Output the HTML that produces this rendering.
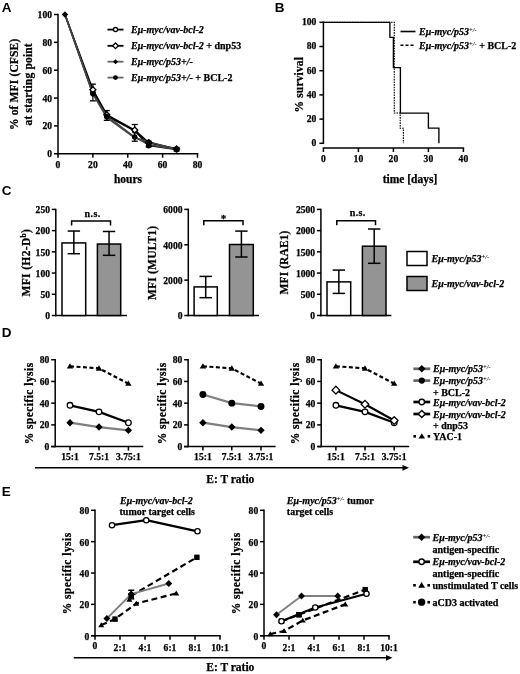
<!DOCTYPE html>
<html><head><meta charset="utf-8"><style>
html,body{margin:0;padding:0;background:#fff;}
body{width:520px;height:674px;overflow:hidden;}
svg{display:block;filter:blur(0.3px);}
.t{font-family:"Liberation Serif",serif;font-weight:bold;fill:#000;stroke:#000;stroke-width:0.25px;}
.bi{font-style:italic;}
.p{font-family:"Liberation Sans",sans-serif;font-weight:bold;fill:#000;}
</style></head><body>
<svg width="520" height="674" viewBox="0 0 520 674">
<rect width="520" height="674" fill="#fff"/>
<text x="1.8" y="12.3" font-size="13.5" text-anchor="start" class="p">A</text>
<text x="274.8" y="12.2" font-size="13.5" text-anchor="start" class="p">B</text>
<text x="1.8" y="194.5" font-size="13.5" text-anchor="start" class="p">C</text>
<text x="1.8" y="336.6" font-size="13.5" text-anchor="start" class="p">D</text>
<text x="1.8" y="495.6" font-size="13.5" text-anchor="start" class="p">E</text>
<line x1="58" y1="13.75" x2="58" y2="154.5" stroke="#000" stroke-width="1.5" stroke-linecap="butt"/>
<line x1="57.25" y1="153.75" x2="198.25" y2="153.75" stroke="#000" stroke-width="1.5" stroke-linecap="butt"/>
<line x1="54" y1="153.75" x2="58" y2="153.75" stroke="#000" stroke-width="1.5" stroke-linecap="butt"/>
<text x="52" y="157.25" font-size="9.6" text-anchor="end" class="t">0</text>
<line x1="54" y1="125.9" x2="58" y2="125.9" stroke="#000" stroke-width="1.5" stroke-linecap="butt"/>
<text x="52" y="129.4" font-size="9.6" text-anchor="end" class="t">20</text>
<line x1="54" y1="98.05" x2="58" y2="98.05" stroke="#000" stroke-width="1.5" stroke-linecap="butt"/>
<text x="52" y="101.55" font-size="9.6" text-anchor="end" class="t">40</text>
<line x1="54" y1="70.2" x2="58" y2="70.2" stroke="#000" stroke-width="1.5" stroke-linecap="butt"/>
<text x="52" y="73.7" font-size="9.6" text-anchor="end" class="t">60</text>
<line x1="54" y1="42.35" x2="58" y2="42.35" stroke="#000" stroke-width="1.5" stroke-linecap="butt"/>
<text x="52" y="45.85" font-size="9.6" text-anchor="end" class="t">80</text>
<line x1="54" y1="14.5" x2="58" y2="14.5" stroke="#000" stroke-width="1.5" stroke-linecap="butt"/>
<text x="52" y="18" font-size="9.6" text-anchor="end" class="t">100</text>
<line x1="58" y1="153.75" x2="58" y2="157.75" stroke="#000" stroke-width="1.5" stroke-linecap="butt"/>
<text x="58" y="167.5" font-size="9.6" text-anchor="middle" class="t">0</text>
<line x1="92.88" y1="153.75" x2="92.88" y2="157.75" stroke="#000" stroke-width="1.5" stroke-linecap="butt"/>
<text x="92.88" y="167.5" font-size="9.6" text-anchor="middle" class="t">20</text>
<line x1="127.75" y1="153.75" x2="127.75" y2="157.75" stroke="#000" stroke-width="1.5" stroke-linecap="butt"/>
<text x="127.75" y="167.5" font-size="9.6" text-anchor="middle" class="t">40</text>
<line x1="162.62" y1="153.75" x2="162.62" y2="157.75" stroke="#000" stroke-width="1.5" stroke-linecap="butt"/>
<text x="162.62" y="167.5" font-size="9.6" text-anchor="middle" class="t">60</text>
<line x1="197.5" y1="153.75" x2="197.5" y2="157.75" stroke="#000" stroke-width="1.5" stroke-linecap="butt"/>
<text x="197.5" y="167.5" font-size="9.6" text-anchor="middle" class="t">80</text>
<text x="128" y="183" font-size="11.5" text-anchor="middle" class="t">hours</text>
<text transform="translate(18.2,84.3) rotate(-90)" font-size="11.5" text-anchor="middle" class="t" letter-spacing="0.15">% of MFI (CFSE)</text>
<text transform="translate(32,84.3) rotate(-90)" font-size="11.5" text-anchor="middle" class="t" letter-spacing="0.18">at starting point</text>
<line x1="92.88" y1="84.12" x2="92.88" y2="100.83" stroke="#000" stroke-width="1.2" stroke-linecap="butt"/>
<line x1="89.88" y1="84.12" x2="95.88" y2="84.12" stroke="#000" stroke-width="1.3" stroke-linecap="butt"/>
<line x1="89.88" y1="100.83" x2="95.88" y2="100.83" stroke="#000" stroke-width="1.3" stroke-linecap="butt"/>
<line x1="106.82" y1="110.58" x2="106.82" y2="120.33" stroke="#000" stroke-width="1.2" stroke-linecap="butt"/>
<line x1="103.82" y1="110.58" x2="109.82" y2="110.58" stroke="#000" stroke-width="1.3" stroke-linecap="butt"/>
<line x1="103.82" y1="120.33" x2="109.82" y2="120.33" stroke="#000" stroke-width="1.3" stroke-linecap="butt"/>
<line x1="134.72" y1="124.51" x2="134.72" y2="141.22" stroke="#000" stroke-width="1.2" stroke-linecap="butt"/>
<line x1="131.72" y1="124.51" x2="137.72" y2="124.51" stroke="#000" stroke-width="1.3" stroke-linecap="butt"/>
<line x1="131.72" y1="141.22" x2="137.72" y2="141.22" stroke="#000" stroke-width="1.3" stroke-linecap="butt"/>
<line x1="148.68" y1="141.22" x2="148.68" y2="146.79" stroke="#000" stroke-width="1.2" stroke-linecap="butt"/>
<line x1="145.68" y1="141.22" x2="151.68" y2="141.22" stroke="#000" stroke-width="1.3" stroke-linecap="butt"/>
<line x1="145.68" y1="146.79" x2="151.68" y2="146.79" stroke="#000" stroke-width="1.3" stroke-linecap="butt"/>
<line x1="176.57" y1="147.48" x2="176.57" y2="150.97" stroke="#000" stroke-width="1.2" stroke-linecap="butt"/>
<line x1="173.57" y1="147.48" x2="179.57" y2="147.48" stroke="#000" stroke-width="1.3" stroke-linecap="butt"/>
<line x1="173.57" y1="150.97" x2="179.57" y2="150.97" stroke="#000" stroke-width="1.3" stroke-linecap="butt"/>
<polyline points="64.97,14.5 92.88,89.69 106.82,114.76 134.72,130.08 148.68,142.61 176.57,148.88" fill="none" stroke="#000" stroke-width="1.6" stroke-linejoin="round"/>
<polyline points="64.97,14.5 92.88,92.48 106.82,116.15 134.72,130.77 148.68,145.53 176.57,149.57" fill="none" stroke="#000" stroke-width="1.6" stroke-linejoin="round"/>
<polyline points="64.97,14.5 92.88,93.87 106.82,117.55 134.72,137.74 148.68,141.77 176.57,149.57" fill="none" stroke="#444" stroke-width="1.6" stroke-linejoin="round"/>
<polyline points="64.97,14.5 92.88,93.87 106.82,116.15 134.72,137.04 148.68,144.7 176.57,149.29" fill="none" stroke="#444" stroke-width="1.6" stroke-linejoin="round"/>
<circle cx="92.88" cy="92.48" r="2.2" fill="#fff" stroke="#000" stroke-width="1.3"/>
<circle cx="106.82" cy="116.15" r="2.2" fill="#fff" stroke="#000" stroke-width="1.3"/>
<circle cx="134.72" cy="130.77" r="2.2" fill="#fff" stroke="#000" stroke-width="1.3"/>
<circle cx="148.68" cy="145.53" r="2.2" fill="#fff" stroke="#000" stroke-width="1.3"/>
<circle cx="176.57" cy="149.57" r="2.2" fill="#fff" stroke="#000" stroke-width="1.3"/>
<path d="M92.88,86.69 L95.88,89.69 L92.88,92.69 L89.88,89.69 Z" fill="#fff" stroke="#000" stroke-width="1.3"/>
<path d="M106.82,111.76 L109.82,114.76 L106.82,117.76 L103.82,114.76 Z" fill="#fff" stroke="#000" stroke-width="1.3"/>
<path d="M134.72,127.08 L137.72,130.08 L134.72,133.08 L131.72,130.08 Z" fill="#fff" stroke="#000" stroke-width="1.3"/>
<path d="M148.68,139.61 L151.68,142.61 L148.68,145.61 L145.68,142.61 Z" fill="#fff" stroke="#000" stroke-width="1.3"/>
<path d="M176.57,145.88 L179.57,148.88 L176.57,151.88 L173.57,148.88 Z" fill="#fff" stroke="#000" stroke-width="1.3"/>
<path d="M92.88,91 L95.75,93.87 L92.88,96.75 L90,93.87 Z" fill="#000"/>
<path d="M106.82,114.67 L109.7,117.55 L106.82,120.42 L103.95,117.55 Z" fill="#000"/>
<path d="M134.72,134.86 L137.6,137.74 L134.72,140.61 L131.85,137.74 Z" fill="#000"/>
<path d="M148.68,138.9 L151.55,141.77 L148.68,144.65 L145.8,141.77 Z" fill="#000"/>
<path d="M176.57,146.7 L179.45,149.57 L176.57,152.45 L173.7,149.57 Z" fill="#000"/>
<circle cx="92.88" cy="93.87" r="2.7" fill="#000"/>
<circle cx="106.82" cy="116.15" r="2.7" fill="#000"/>
<circle cx="134.72" cy="137.04" r="2.7" fill="#000"/>
<circle cx="148.68" cy="144.7" r="2.7" fill="#000"/>
<circle cx="176.57" cy="149.29" r="2.7" fill="#000"/>
<path d="M64.97,11.28 L68.19,14.5 L64.97,17.72 L61.75,14.5 Z" fill="#000"/>
<line x1="107.5" y1="29.6" x2="123.5" y2="29.6" stroke="#000" stroke-width="1.8" stroke-linecap="butt"/>
<circle cx="115.5" cy="29.6" r="2.11" fill="#fff" stroke="#000" stroke-width="1.3"/>
<text x="131" y="32.8" font-size="10" text-anchor="start" class="t"><tspan class="bi">Eμ-myc/vav-bcl-2</tspan></text>
<line x1="107.5" y1="45.8" x2="123.5" y2="45.8" stroke="#000" stroke-width="1.8" stroke-linecap="butt"/>
<path d="M115.5,42.92 L118.38,45.8 L115.5,48.68 L112.62,45.8 Z" fill="#fff" stroke="#000" stroke-width="1.3"/>
<text x="131" y="49" font-size="10" text-anchor="start" class="t"><tspan class="bi">Eμ-myc/vav-bcl-2</tspan> + dnp53</text>
<line x1="107.5" y1="61.7" x2="123.5" y2="61.7" stroke="#666666" stroke-width="1.8" stroke-linecap="butt"/>
<path d="M115.5,59.17 L118.03,61.7 L115.5,64.23 L112.97,61.7 Z" fill="#000"/>
<text x="131" y="64.9" font-size="10" text-anchor="start" class="t"><tspan class="bi">Eμ-myc/p53+/-</tspan></text>
<line x1="107.5" y1="77.6" x2="123.5" y2="77.6" stroke="#666666" stroke-width="1.8" stroke-linecap="butt"/>
<circle cx="115.5" cy="77.6" r="2.38" fill="#000"/>
<text x="131" y="80.8" font-size="10" text-anchor="start" class="t"><tspan class="bi">Eμ-myc/p53+/-</tspan> + BCL-2</text>
<line x1="323.4" y1="21.55" x2="323.4" y2="144.05" stroke="#000" stroke-width="1.5" stroke-linecap="butt"/>
<line x1="319.4" y1="143.3" x2="323.4" y2="143.3" stroke="#000" stroke-width="1.5" stroke-linecap="butt"/>
<text x="316.4" y="146.1" font-size="9.6" text-anchor="end" class="t">0</text>
<line x1="319.4" y1="119.1" x2="323.4" y2="119.1" stroke="#000" stroke-width="1.5" stroke-linecap="butt"/>
<text x="316.4" y="121.9" font-size="9.6" text-anchor="end" class="t">20</text>
<line x1="319.4" y1="94.9" x2="323.4" y2="94.9" stroke="#000" stroke-width="1.5" stroke-linecap="butt"/>
<text x="316.4" y="97.7" font-size="9.6" text-anchor="end" class="t">40</text>
<line x1="319.4" y1="70.7" x2="323.4" y2="70.7" stroke="#000" stroke-width="1.5" stroke-linecap="butt"/>
<text x="316.4" y="73.5" font-size="9.6" text-anchor="end" class="t">60</text>
<line x1="319.4" y1="46.5" x2="323.4" y2="46.5" stroke="#000" stroke-width="1.5" stroke-linecap="butt"/>
<text x="316.4" y="49.3" font-size="9.6" text-anchor="end" class="t">80</text>
<line x1="319.4" y1="22.3" x2="323.4" y2="22.3" stroke="#000" stroke-width="1.5" stroke-linecap="butt"/>
<text x="316.4" y="25.1" font-size="9.6" text-anchor="end" class="t">100</text>
<line x1="322.65" y1="148" x2="464.15" y2="148" stroke="#000" stroke-width="1.5" stroke-linecap="butt"/>
<line x1="323.4" y1="148" x2="323.4" y2="152" stroke="#000" stroke-width="1.5" stroke-linecap="butt"/>
<text x="323.4" y="161.8" font-size="9.6" text-anchor="middle" class="t">0</text>
<line x1="358.4" y1="148" x2="358.4" y2="152" stroke="#000" stroke-width="1.5" stroke-linecap="butt"/>
<text x="358.4" y="161.8" font-size="9.6" text-anchor="middle" class="t">10</text>
<line x1="393.4" y1="148" x2="393.4" y2="152" stroke="#000" stroke-width="1.5" stroke-linecap="butt"/>
<text x="393.4" y="161.8" font-size="9.6" text-anchor="middle" class="t">20</text>
<line x1="428.4" y1="148" x2="428.4" y2="152" stroke="#000" stroke-width="1.5" stroke-linecap="butt"/>
<text x="428.4" y="161.8" font-size="9.6" text-anchor="middle" class="t">30</text>
<line x1="463.4" y1="148" x2="463.4" y2="152" stroke="#000" stroke-width="1.5" stroke-linecap="butt"/>
<text x="463.4" y="161.8" font-size="9.6" text-anchor="middle" class="t">40</text>
<text x="410" y="182.8" font-size="11.5" text-anchor="middle" class="t">time [days]</text>
<text transform="translate(303,84.7) rotate(-90)" font-size="11.5" text-anchor="middle" class="t" letter-spacing="0.15">% survival</text>
<polyline points="323.4,22.3 394.27,22.3 394.27,113.05 400.22,113.05 400.22,128.18 403.38,128.18 403.38,143.3" fill="none" stroke="#000" stroke-width="1.1" stroke-linejoin="miter" stroke-dasharray="1.6,1"/>
<polyline points="323.4,22.3 389.9,22.3 389.9,37.43 393.4,37.43 393.4,67.68 400.4,67.68 400.4,113.05 428.4,113.05 428.4,128.18 438.9,128.18 438.9,143.3" fill="none" stroke="#000" stroke-width="1.35" stroke-linejoin="miter"/>
<line x1="400.5" y1="31.5" x2="415.5" y2="31.5" stroke="#000" stroke-width="1.6" stroke-linecap="butt"/>
<line x1="400.5" y1="45.2" x2="415.5" y2="45.2" stroke="#000" stroke-width="1.6" stroke-linecap="butt" stroke-dasharray="3,2"/>
<text x="419" y="35" font-size="10" text-anchor="start" class="t"><tspan class="bi">Eμ-myc/p53</tspan><tspan class="bi" font-size="6.5" dy="-3" style="stroke:none">+/-</tspan></text>
<text x="419" y="48.7" font-size="10" text-anchor="start" class="t"><tspan class="bi">Eμ-myc/p53</tspan><tspan class="bi" font-size="6.5" dy="-3" style="stroke:none">+/-</tspan><tspan dy="3"> + BCL-2</tspan></text>
<line x1="55.8" y1="208.65" x2="55.8" y2="316.25" stroke="#000" stroke-width="1.5" stroke-linecap="butt"/>
<line x1="55.05" y1="315.5" x2="127" y2="315.5" stroke="#000" stroke-width="1.5" stroke-linecap="butt"/>
<line x1="51.8" y1="315.5" x2="55.8" y2="315.5" stroke="#000" stroke-width="1.5" stroke-linecap="butt"/>
<text x="50" y="319.25" font-size="9.6" text-anchor="end" class="t">0</text>
<line x1="51.8" y1="294.28" x2="55.8" y2="294.28" stroke="#000" stroke-width="1.5" stroke-linecap="butt"/>
<text x="50" y="298.03" font-size="9.6" text-anchor="end" class="t">50</text>
<line x1="51.8" y1="273.06" x2="55.8" y2="273.06" stroke="#000" stroke-width="1.5" stroke-linecap="butt"/>
<text x="50" y="276.81" font-size="9.6" text-anchor="end" class="t">100</text>
<line x1="51.8" y1="251.84" x2="55.8" y2="251.84" stroke="#000" stroke-width="1.5" stroke-linecap="butt"/>
<text x="50" y="255.59" font-size="9.6" text-anchor="end" class="t">150</text>
<line x1="51.8" y1="230.62" x2="55.8" y2="230.62" stroke="#000" stroke-width="1.5" stroke-linecap="butt"/>
<text x="50" y="234.37" font-size="9.6" text-anchor="end" class="t">200</text>
<line x1="51.8" y1="209.4" x2="55.8" y2="209.4" stroke="#000" stroke-width="1.5" stroke-linecap="butt"/>
<text x="50" y="213.15" font-size="9.6" text-anchor="end" class="t">250</text>
<rect x="62" y="242.93" width="23.7" height="72.57" fill="#fff" stroke="#000" stroke-width="1.5"/>
<line x1="73.85" y1="231.04" x2="73.85" y2="253.71" stroke="#000" stroke-width="1.5" stroke-linecap="butt"/>
<line x1="67.65" y1="231.04" x2="80.05" y2="231.04" stroke="#000" stroke-width="1.5" stroke-linecap="butt"/>
<line x1="67.65" y1="253.71" x2="80.05" y2="253.71" stroke="#000" stroke-width="1.5" stroke-linecap="butt"/>
<rect x="97.4" y="244.03" width="23.3" height="71.47" fill="#949494" stroke="#000" stroke-width="1.5"/>
<line x1="109.05" y1="231.47" x2="109.05" y2="255.32" stroke="#000" stroke-width="1.5" stroke-linecap="butt"/>
<line x1="102.85" y1="231.47" x2="115.25" y2="231.47" stroke="#000" stroke-width="1.5" stroke-linecap="butt"/>
<line x1="102.85" y1="255.32" x2="115.25" y2="255.32" stroke="#000" stroke-width="1.5" stroke-linecap="butt"/>
<polyline points="71.6,225.4 71.6,220.9 110.5,220.9 110.5,225.4" fill="none" stroke="#000" stroke-width="1.5" stroke-linejoin="miter"/>
<text x="92.65" y="216.6" font-size="10" text-anchor="middle" class="t" letter-spacing="0.4">n.s.</text>
<text transform="translate(30,262.6) rotate(-90)" font-size="11.5" text-anchor="middle" class="t" letter-spacing="0.35">MFI (H2-D<tspan font-size="7.5" dy="-4">b</tspan><tspan dy="4">)</tspan></text>
<line x1="188.3" y1="208.65" x2="188.3" y2="316.25" stroke="#000" stroke-width="1.5" stroke-linecap="butt"/>
<line x1="187.55" y1="315.5" x2="259" y2="315.5" stroke="#000" stroke-width="1.5" stroke-linecap="butt"/>
<line x1="184.3" y1="315.5" x2="188.3" y2="315.5" stroke="#000" stroke-width="1.5" stroke-linecap="butt"/>
<text x="182.5" y="319.25" font-size="9.6" text-anchor="end" class="t">0</text>
<line x1="184.3" y1="280.13" x2="188.3" y2="280.13" stroke="#000" stroke-width="1.5" stroke-linecap="butt"/>
<text x="182.5" y="283.88" font-size="9.6" text-anchor="end" class="t">2000</text>
<line x1="184.3" y1="244.77" x2="188.3" y2="244.77" stroke="#000" stroke-width="1.5" stroke-linecap="butt"/>
<text x="182.5" y="248.52" font-size="9.6" text-anchor="end" class="t">4000</text>
<line x1="184.3" y1="209.4" x2="188.3" y2="209.4" stroke="#000" stroke-width="1.5" stroke-linecap="butt"/>
<text x="182.5" y="213.15" font-size="9.6" text-anchor="end" class="t">6000</text>
<rect x="194.1" y="286.91" width="23.2" height="28.59" fill="#fff" stroke="#000" stroke-width="1.5"/>
<line x1="205.7" y1="276.4" x2="205.7" y2="297.69" stroke="#000" stroke-width="1.5" stroke-linecap="butt"/>
<line x1="199.5" y1="276.4" x2="211.9" y2="276.4" stroke="#000" stroke-width="1.5" stroke-linecap="butt"/>
<line x1="199.5" y1="297.69" x2="211.9" y2="297.69" stroke="#000" stroke-width="1.5" stroke-linecap="butt"/>
<rect x="229.5" y="244.5" width="23.8" height="71" fill="#949494" stroke="#000" stroke-width="1.5"/>
<line x1="241.4" y1="231.1" x2="241.4" y2="257" stroke="#000" stroke-width="1.5" stroke-linecap="butt"/>
<line x1="235.2" y1="231.1" x2="247.6" y2="231.1" stroke="#000" stroke-width="1.5" stroke-linecap="butt"/>
<line x1="235.2" y1="257" x2="247.6" y2="257" stroke="#000" stroke-width="1.5" stroke-linecap="butt"/>
<polyline points="203.8,225.2 203.8,220.7 243,220.7 243,225.2" fill="none" stroke="#000" stroke-width="1.5" stroke-linejoin="miter"/>
<text x="223.4" y="221.5" font-size="11" text-anchor="middle" class="t">*</text>
<text transform="translate(155.6,262.8) rotate(-90)" font-size="11.5" text-anchor="middle" class="t" letter-spacing="0.2">MFI (MULT1)</text>
<line x1="320.9" y1="208.65" x2="320.9" y2="316.25" stroke="#000" stroke-width="1.5" stroke-linecap="butt"/>
<line x1="320.15" y1="315.5" x2="391.4" y2="315.5" stroke="#000" stroke-width="1.5" stroke-linecap="butt"/>
<line x1="316.9" y1="315.5" x2="320.9" y2="315.5" stroke="#000" stroke-width="1.5" stroke-linecap="butt"/>
<text x="315.1" y="319.25" font-size="9.6" text-anchor="end" class="t">0</text>
<line x1="316.9" y1="294.28" x2="320.9" y2="294.28" stroke="#000" stroke-width="1.5" stroke-linecap="butt"/>
<text x="315.1" y="298.03" font-size="9.6" text-anchor="end" class="t">500</text>
<line x1="316.9" y1="273.06" x2="320.9" y2="273.06" stroke="#000" stroke-width="1.5" stroke-linecap="butt"/>
<text x="315.1" y="276.81" font-size="9.6" text-anchor="end" class="t">1000</text>
<line x1="316.9" y1="251.84" x2="320.9" y2="251.84" stroke="#000" stroke-width="1.5" stroke-linecap="butt"/>
<text x="315.1" y="255.59" font-size="9.6" text-anchor="end" class="t">1500</text>
<line x1="316.9" y1="230.62" x2="320.9" y2="230.62" stroke="#000" stroke-width="1.5" stroke-linecap="butt"/>
<text x="315.1" y="234.37" font-size="9.6" text-anchor="end" class="t">2000</text>
<line x1="316.9" y1="209.4" x2="320.9" y2="209.4" stroke="#000" stroke-width="1.5" stroke-linecap="butt"/>
<text x="315.1" y="213.15" font-size="9.6" text-anchor="end" class="t">2500</text>
<rect x="327" y="281.89" width="23.7" height="33.61" fill="#fff" stroke="#000" stroke-width="1.5"/>
<line x1="338.85" y1="270.09" x2="338.85" y2="293.39" stroke="#000" stroke-width="1.5" stroke-linecap="butt"/>
<line x1="332.65" y1="270.09" x2="345.05" y2="270.09" stroke="#000" stroke-width="1.5" stroke-linecap="butt"/>
<line x1="332.65" y1="293.39" x2="345.05" y2="293.39" stroke="#000" stroke-width="1.5" stroke-linecap="butt"/>
<rect x="362.4" y="246.2" width="23.6" height="69.3" fill="#949494" stroke="#000" stroke-width="1.5"/>
<line x1="374.2" y1="229.01" x2="374.2" y2="263.3" stroke="#000" stroke-width="1.5" stroke-linecap="butt"/>
<line x1="368" y1="229.01" x2="380.4" y2="229.01" stroke="#000" stroke-width="1.5" stroke-linecap="butt"/>
<line x1="368" y1="263.3" x2="380.4" y2="263.3" stroke="#000" stroke-width="1.5" stroke-linecap="butt"/>
<polyline points="336.8,225.2 336.8,220.7 375.5,220.7 375.5,225.2" fill="none" stroke="#000" stroke-width="1.5" stroke-linejoin="miter"/>
<text x="357.75" y="216.4" font-size="10" text-anchor="middle" class="t" letter-spacing="0.4">n.s.</text>
<text transform="translate(287.7,262.5) rotate(-90)" font-size="11.5" text-anchor="middle" class="t" letter-spacing="0.1">MFI (RAE1)</text>
<rect x="407" y="251.5" width="20" height="14" fill="#fff" stroke="#000" stroke-width="1.5"/>
<rect x="407" y="276.5" width="20" height="14" fill="#949494" stroke="#000" stroke-width="1.5"/>
<text x="431.5" y="262" font-size="10" text-anchor="start" class="t"><tspan class="bi">Eμ-myc/p53</tspan><tspan class="bi" font-size="6.5" dy="-3" style="stroke:none">+/-</tspan></text>
<text x="431.5" y="286.5" font-size="10" text-anchor="start" class="t"><tspan class="bi">Eμ-myc/vav-bcl-2</tspan></text>
<line x1="55.2" y1="358.97" x2="55.2" y2="447.35" stroke="#000" stroke-width="1.5" stroke-linecap="butt"/>
<line x1="51.2" y1="446.6" x2="143.3" y2="446.6" stroke="#000" stroke-width="1.5" stroke-linecap="butt"/>
<line x1="51.2" y1="446.6" x2="55.2" y2="446.6" stroke="#000" stroke-width="1.5" stroke-linecap="butt"/>
<text x="49.4" y="450" font-size="9.6" text-anchor="end" class="t">0</text>
<line x1="51.2" y1="424.88" x2="55.2" y2="424.88" stroke="#000" stroke-width="1.5" stroke-linecap="butt"/>
<text x="49.4" y="428.28" font-size="9.6" text-anchor="end" class="t">20</text>
<line x1="51.2" y1="403.16" x2="55.2" y2="403.16" stroke="#000" stroke-width="1.5" stroke-linecap="butt"/>
<text x="49.4" y="406.56" font-size="9.6" text-anchor="end" class="t">40</text>
<line x1="51.2" y1="381.44" x2="55.2" y2="381.44" stroke="#000" stroke-width="1.5" stroke-linecap="butt"/>
<text x="49.4" y="384.84" font-size="9.6" text-anchor="end" class="t">60</text>
<line x1="51.2" y1="359.72" x2="55.2" y2="359.72" stroke="#000" stroke-width="1.5" stroke-linecap="butt"/>
<text x="49.4" y="363.12" font-size="9.6" text-anchor="end" class="t">80</text>
<line x1="70" y1="446.6" x2="70" y2="450.6" stroke="#000" stroke-width="1.5" stroke-linecap="butt"/>
<text x="70" y="460.1" font-size="9.6" text-anchor="middle" class="t">15:1</text>
<line x1="99" y1="446.6" x2="99" y2="450.6" stroke="#000" stroke-width="1.5" stroke-linecap="butt"/>
<text x="99" y="460.1" font-size="9.6" text-anchor="middle" class="t">7.5:1</text>
<line x1="128.4" y1="446.6" x2="128.4" y2="450.6" stroke="#000" stroke-width="1.5" stroke-linecap="butt"/>
<text x="128.4" y="460.1" font-size="9.6" text-anchor="middle" class="t">3.75:1</text>
<polyline points="70,422.71 99,427.05 128.4,430.31" fill="none" stroke="#808080" stroke-width="2.2" stroke-linejoin="round"/>
<polyline points="70,405.33 99,411.85 128.4,422.71" fill="none" stroke="#000" stroke-width="2.2" stroke-linejoin="round"/>
<polyline points="70,366.24 99,368.41 128.4,383.61" fill="none" stroke="#000" stroke-width="2.2" stroke-linejoin="round" stroke-dasharray="4,2.5"/>
<path d="M70,419.03 L73.68,422.71 L70,426.39 L66.32,422.71 Z" fill="#000"/>
<path d="M99,423.37 L102.68,427.05 L99,430.73 L95.32,427.05 Z" fill="#000"/>
<path d="M128.4,426.63 L132.08,430.31 L128.4,433.99 L124.72,430.31 Z" fill="#000"/>
<circle cx="70" cy="405.33" r="2.82" fill="#fff" stroke="#000" stroke-width="1.3"/>
<circle cx="99" cy="411.85" r="2.82" fill="#fff" stroke="#000" stroke-width="1.3"/>
<circle cx="128.4" cy="422.71" r="2.82" fill="#fff" stroke="#000" stroke-width="1.3"/>
<path d="M70,363.2 L73.2,368.48 L66.8,368.48 Z" fill="#000"/>
<path d="M99,365.37 L102.2,370.65 L95.8,370.65 Z" fill="#000"/>
<path d="M128.4,380.57 L131.6,385.85 L125.2,385.85 Z" fill="#000"/>
<text transform="translate(32.7,403.4) rotate(-90)" font-size="11.5" text-anchor="middle" class="t" letter-spacing="0.45">% specific lysis</text>
<line x1="188.1" y1="358.97" x2="188.1" y2="447.35" stroke="#000" stroke-width="1.5" stroke-linecap="butt"/>
<line x1="184.1" y1="446.6" x2="275.6" y2="446.6" stroke="#000" stroke-width="1.5" stroke-linecap="butt"/>
<line x1="184.1" y1="446.6" x2="188.1" y2="446.6" stroke="#000" stroke-width="1.5" stroke-linecap="butt"/>
<text x="182.3" y="450" font-size="9.6" text-anchor="end" class="t">0</text>
<line x1="184.1" y1="424.88" x2="188.1" y2="424.88" stroke="#000" stroke-width="1.5" stroke-linecap="butt"/>
<text x="182.3" y="428.28" font-size="9.6" text-anchor="end" class="t">20</text>
<line x1="184.1" y1="403.16" x2="188.1" y2="403.16" stroke="#000" stroke-width="1.5" stroke-linecap="butt"/>
<text x="182.3" y="406.56" font-size="9.6" text-anchor="end" class="t">40</text>
<line x1="184.1" y1="381.44" x2="188.1" y2="381.44" stroke="#000" stroke-width="1.5" stroke-linecap="butt"/>
<text x="182.3" y="384.84" font-size="9.6" text-anchor="end" class="t">60</text>
<line x1="184.1" y1="359.72" x2="188.1" y2="359.72" stroke="#000" stroke-width="1.5" stroke-linecap="butt"/>
<text x="182.3" y="363.12" font-size="9.6" text-anchor="end" class="t">80</text>
<line x1="202.9" y1="446.6" x2="202.9" y2="450.6" stroke="#000" stroke-width="1.5" stroke-linecap="butt"/>
<text x="202.9" y="460.1" font-size="9.6" text-anchor="middle" class="t">15:1</text>
<line x1="231.8" y1="446.6" x2="231.8" y2="450.6" stroke="#000" stroke-width="1.5" stroke-linecap="butt"/>
<text x="231.8" y="460.1" font-size="9.6" text-anchor="middle" class="t">7.5:1</text>
<line x1="261" y1="446.6" x2="261" y2="450.6" stroke="#000" stroke-width="1.5" stroke-linecap="butt"/>
<text x="261" y="460.1" font-size="9.6" text-anchor="middle" class="t">3.75:1</text>
<polyline points="202.9,422.71 231.8,427.05 261,430.31" fill="none" stroke="#808080" stroke-width="2.2" stroke-linejoin="round"/>
<polyline points="202.9,394.47 231.8,403.16 261,406.42" fill="none" stroke="#808080" stroke-width="2.2" stroke-linejoin="round"/>
<polyline points="202.9,366.24 231.8,368.41 261,383.61" fill="none" stroke="#000" stroke-width="2.2" stroke-linejoin="round" stroke-dasharray="4,2.5"/>
<path d="M202.9,419.03 L206.58,422.71 L202.9,426.39 L199.22,422.71 Z" fill="#000"/>
<path d="M231.8,423.37 L235.48,427.05 L231.8,430.73 L228.12,427.05 Z" fill="#000"/>
<path d="M261,426.63 L264.68,430.31 L261,433.99 L257.32,430.31 Z" fill="#000"/>
<circle cx="202.9" cy="394.47" r="3.46" fill="#000"/>
<circle cx="231.8" cy="403.16" r="3.46" fill="#000"/>
<circle cx="261" cy="406.42" r="3.46" fill="#000"/>
<path d="M202.9,363.2 L206.1,368.48 L199.7,368.48 Z" fill="#000"/>
<path d="M231.8,365.37 L235,370.65 L228.6,370.65 Z" fill="#000"/>
<path d="M261,380.57 L264.2,385.85 L257.8,385.85 Z" fill="#000"/>
<text transform="translate(165.6,403.4) rotate(-90)" font-size="11.5" text-anchor="middle" class="t" letter-spacing="0.45">% specific lysis</text>
<line x1="321.2" y1="358.97" x2="321.2" y2="447.35" stroke="#000" stroke-width="1.5" stroke-linecap="butt"/>
<line x1="317.2" y1="446.6" x2="409.2" y2="446.6" stroke="#000" stroke-width="1.5" stroke-linecap="butt"/>
<line x1="317.2" y1="446.6" x2="321.2" y2="446.6" stroke="#000" stroke-width="1.5" stroke-linecap="butt"/>
<text x="315.4" y="450" font-size="9.6" text-anchor="end" class="t">0</text>
<line x1="317.2" y1="424.88" x2="321.2" y2="424.88" stroke="#000" stroke-width="1.5" stroke-linecap="butt"/>
<text x="315.4" y="428.28" font-size="9.6" text-anchor="end" class="t">20</text>
<line x1="317.2" y1="403.16" x2="321.2" y2="403.16" stroke="#000" stroke-width="1.5" stroke-linecap="butt"/>
<text x="315.4" y="406.56" font-size="9.6" text-anchor="end" class="t">40</text>
<line x1="317.2" y1="381.44" x2="321.2" y2="381.44" stroke="#000" stroke-width="1.5" stroke-linecap="butt"/>
<text x="315.4" y="384.84" font-size="9.6" text-anchor="end" class="t">60</text>
<line x1="317.2" y1="359.72" x2="321.2" y2="359.72" stroke="#000" stroke-width="1.5" stroke-linecap="butt"/>
<text x="315.4" y="363.12" font-size="9.6" text-anchor="end" class="t">80</text>
<line x1="335.9" y1="446.6" x2="335.9" y2="450.6" stroke="#000" stroke-width="1.5" stroke-linecap="butt"/>
<text x="335.9" y="460.1" font-size="9.6" text-anchor="middle" class="t">15:1</text>
<line x1="365" y1="446.6" x2="365" y2="450.6" stroke="#000" stroke-width="1.5" stroke-linecap="butt"/>
<text x="365" y="460.1" font-size="9.6" text-anchor="middle" class="t">7.5:1</text>
<line x1="394.2" y1="446.6" x2="394.2" y2="450.6" stroke="#000" stroke-width="1.5" stroke-linecap="butt"/>
<text x="394.2" y="460.1" font-size="9.6" text-anchor="middle" class="t">3.75:1</text>
<polyline points="335.9,405.33 365,411.85 394.2,422.71" fill="none" stroke="#000" stroke-width="2.2" stroke-linejoin="round"/>
<polyline points="335.9,390.13 365,404.25 394.2,420.54" fill="none" stroke="#000" stroke-width="2.2" stroke-linejoin="round"/>
<polyline points="335.9,366.24 365,368.41 394.2,383.61" fill="none" stroke="#000" stroke-width="2.2" stroke-linejoin="round" stroke-dasharray="4,2.5"/>
<circle cx="335.9" cy="405.33" r="2.82" fill="#fff" stroke="#000" stroke-width="1.3"/>
<circle cx="365" cy="411.85" r="2.82" fill="#fff" stroke="#000" stroke-width="1.3"/>
<circle cx="394.2" cy="422.71" r="2.82" fill="#fff" stroke="#000" stroke-width="1.3"/>
<path d="M335.9,386.29 L339.74,390.13 L335.9,393.97 L332.06,390.13 Z" fill="#fff" stroke="#000" stroke-width="1.3"/>
<path d="M365,400.41 L368.84,404.25 L365,408.09 L361.16,404.25 Z" fill="#fff" stroke="#000" stroke-width="1.3"/>
<path d="M394.2,416.7 L398.04,420.54 L394.2,424.38 L390.36,420.54 Z" fill="#fff" stroke="#000" stroke-width="1.3"/>
<path d="M335.9,363.2 L339.1,368.48 L332.7,368.48 Z" fill="#000"/>
<path d="M365,365.37 L368.2,370.65 L361.8,370.65 Z" fill="#000"/>
<path d="M394.2,380.57 L397.4,385.85 L391,385.85 Z" fill="#000"/>
<text transform="translate(298.7,403.4) rotate(-90)" font-size="11.5" text-anchor="middle" class="t" letter-spacing="0.45">% specific lysis</text>
<line x1="35" y1="467.8" x2="403" y2="467.8" stroke="#000" stroke-width="1.5" stroke-linecap="butt"/>
<path d="M409,467.8 L402.5,464.9 L402.5,470.7 Z" fill="#000"/>
<text x="230.3" y="483" font-size="11.5" text-anchor="middle" class="t">E: T ratio</text>
<line x1="413.4" y1="368.8" x2="430.2" y2="368.8" stroke="#666666" stroke-width="2.7" stroke-linecap="butt"/>
<path d="M421.8,365.12 L425.48,368.8 L421.8,372.48 L418.12,368.8 Z" fill="#000"/>
<text x="433" y="372.4" font-size="10" text-anchor="start" class="t"><tspan class="bi">Eμ-myc/p53</tspan><tspan class="bi" font-size="6.5" dy="-3" style="stroke:none">+/-</tspan></text>
<line x1="413.4" y1="380.6" x2="430.2" y2="380.6" stroke="#666666" stroke-width="2.7" stroke-linecap="butt"/>
<circle cx="421.8" cy="380.6" r="3.13" fill="#000"/>
<text x="433" y="384.2" font-size="10" text-anchor="start" class="t"><tspan class="bi">Eμ-myc/p53</tspan><tspan class="bi" font-size="6.5" dy="-3" style="stroke:none">+/-</tspan></text>
<line x1="413.4" y1="402" x2="430.2" y2="402" stroke="#000" stroke-width="2.7" stroke-linecap="butt"/>
<circle cx="421.8" cy="402" r="2.73" fill="#fff" stroke="#000" stroke-width="1.4"/>
<text x="433" y="405.6" font-size="10" text-anchor="start" class="t"><tspan class="bi">Eμ-myc/vav-bcl-2</tspan></text>
<line x1="413.4" y1="414" x2="430.2" y2="414" stroke="#000" stroke-width="2.7" stroke-linecap="butt"/>
<path d="M421.8,410.4 L425.4,414 L421.8,417.6 L418.2,414 Z" fill="#fff" stroke="#000" stroke-width="1.4"/>
<text x="433" y="417.6" font-size="10" text-anchor="start" class="t"><tspan class="bi">Eμ-myc/vav-bcl-2</tspan></text>
<rect x="413.4" y="435" width="2.6" height="2.6" fill="#000"/>
<rect x="427.6" y="435" width="2.6" height="2.6" fill="#000"/>
<path d="M421.8,433.17 L425.1,438.61 L418.5,438.61 Z" fill="#000"/>
<text x="433" y="439.9" font-size="10" text-anchor="start" class="t">YAC-1</text>
<text x="433" y="395.8" font-size="10" text-anchor="start" class="t">+ BCL-2</text>
<text x="433" y="429.1" font-size="10" text-anchor="start" class="t">+ dnp53</text>
<line x1="95" y1="509.55" x2="95" y2="636.45" stroke="#000" stroke-width="1.5" stroke-linecap="butt"/>
<line x1="91" y1="635.7" x2="220.75" y2="635.7" stroke="#000" stroke-width="1.5" stroke-linecap="butt"/>
<line x1="91" y1="635.7" x2="95" y2="635.7" stroke="#000" stroke-width="1.5" stroke-linecap="butt"/>
<text x="89.2" y="639.6" font-size="9.6" text-anchor="end" class="t">0</text>
<line x1="91" y1="604.35" x2="95" y2="604.35" stroke="#000" stroke-width="1.5" stroke-linecap="butt"/>
<text x="89.2" y="608.25" font-size="9.6" text-anchor="end" class="t">20</text>
<line x1="91" y1="573" x2="95" y2="573" stroke="#000" stroke-width="1.5" stroke-linecap="butt"/>
<text x="89.2" y="576.9" font-size="9.6" text-anchor="end" class="t">40</text>
<line x1="91" y1="541.65" x2="95" y2="541.65" stroke="#000" stroke-width="1.5" stroke-linecap="butt"/>
<text x="89.2" y="545.55" font-size="9.6" text-anchor="end" class="t">60</text>
<line x1="91" y1="510.3" x2="95" y2="510.3" stroke="#000" stroke-width="1.5" stroke-linecap="butt"/>
<text x="89.2" y="514.2" font-size="9.6" text-anchor="end" class="t">80</text>
<line x1="95" y1="635.7" x2="95" y2="639.7" stroke="#000" stroke-width="1.5" stroke-linecap="butt"/>
<text x="95" y="649.4" font-size="9.6" text-anchor="middle" class="t">0</text>
<line x1="120" y1="635.7" x2="120" y2="639.7" stroke="#000" stroke-width="1.5" stroke-linecap="butt"/>
<text x="120" y="651.3" font-size="9.6" text-anchor="middle" class="t">2:1</text>
<line x1="145" y1="635.7" x2="145" y2="639.7" stroke="#000" stroke-width="1.5" stroke-linecap="butt"/>
<text x="145" y="651.3" font-size="9.6" text-anchor="middle" class="t">4:1</text>
<line x1="170" y1="635.7" x2="170" y2="639.7" stroke="#000" stroke-width="1.5" stroke-linecap="butt"/>
<text x="170" y="651.3" font-size="9.6" text-anchor="middle" class="t">6:1</text>
<line x1="195" y1="635.7" x2="195" y2="639.7" stroke="#000" stroke-width="1.5" stroke-linecap="butt"/>
<text x="195" y="651.3" font-size="9.6" text-anchor="middle" class="t">8:1</text>
<line x1="220" y1="635.7" x2="220" y2="639.7" stroke="#000" stroke-width="1.5" stroke-linecap="butt"/>
<text x="220" y="651.3" font-size="9.6" text-anchor="middle" class="t">10:1</text>
<polyline points="131.25,595.73 196.88,557.33" fill="none" stroke="#000" stroke-width="2.2" stroke-linejoin="round" stroke-dasharray="6,3.5"/>
<polyline points="101.25,625.04 115,619.08 136.25,603.57 176.25,593.38" fill="none" stroke="#000" stroke-width="2.2" stroke-linejoin="round" stroke-dasharray="6,3.5"/>
<polyline points="106.88,618.46 131.25,594.16 168.75,583.5" fill="none" stroke="#808080" stroke-width="1.9" stroke-linejoin="round"/>
<polyline points="112,525.19 146.25,520.18 197.5,531.3" fill="none" stroke="#000" stroke-width="2.2" stroke-linejoin="round"/>
<rect x="128.55" y="593.03" width="5.4" height="5.4" fill="#000"/>
<rect x="194.18" y="554.62" width="5.4" height="5.4" fill="#000"/>
<path d="M101.25,622.19 L104.25,627.14 L98.25,627.14 Z" fill="#000"/>
<path d="M115,616.23 L118,621.18 L112,621.18 Z" fill="#000"/>
<path d="M136.25,600.72 L139.25,605.67 L133.25,605.67 Z" fill="#000"/>
<path d="M176.25,590.53 L179.25,595.48 L173.25,595.48 Z" fill="#000"/>
<path d="M106.88,615.01 L110.33,618.46 L106.88,621.91 L103.42,618.46 Z" fill="#000"/>
<path d="M131.25,590.71 L134.7,594.16 L131.25,597.61 L127.8,594.16 Z" fill="#000"/>
<path d="M168.75,580.05 L172.2,583.5 L168.75,586.95 L165.3,583.5 Z" fill="#000"/>
<circle cx="112" cy="525.19" r="2.64" fill="#fff" stroke="#000" stroke-width="1.3"/>
<circle cx="146.25" cy="520.18" r="2.64" fill="#fff" stroke="#000" stroke-width="1.3"/>
<circle cx="197.5" cy="531.3" r="2.64" fill="#fff" stroke="#000" stroke-width="1.3"/>
<line x1="131.25" y1="590.24" x2="131.25" y2="598.86" stroke="#000" stroke-width="1.3" stroke-linecap="butt"/>
<line x1="128.25" y1="590.24" x2="134.25" y2="590.24" stroke="#000" stroke-width="1.5" stroke-linecap="butt"/>
<line x1="128.25" y1="598.86" x2="134.25" y2="598.86" stroke="#000" stroke-width="1.5" stroke-linecap="butt"/>
<path d="M129.38,596.8 L132.38,601.75 L126.38,601.75 Z" fill="#000"/>
<rect x="112.3" y="616.38" width="5.4" height="5.4" fill="#000"/>
<path d="M131.25,590.71 L134.7,594.16 L131.25,597.61 L127.8,594.16 Z" fill="#000"/>
<text transform="translate(71.4,573.4) rotate(-90)" font-size="11.5" text-anchor="middle" class="t" letter-spacing="0.45">% specific lysis</text>
<text x="120" y="503.7" font-size="10" text-anchor="start" class="t"><tspan class="bi">Eμ-myc/vav-bcl-2</tspan></text>
<text x="119.5" y="515" font-size="10" text-anchor="start" class="t">tumor target cells</text>
<line x1="264" y1="509.55" x2="264" y2="636.45" stroke="#000" stroke-width="1.5" stroke-linecap="butt"/>
<line x1="260" y1="635.7" x2="389.75" y2="635.7" stroke="#000" stroke-width="1.5" stroke-linecap="butt"/>
<line x1="260" y1="635.7" x2="264" y2="635.7" stroke="#000" stroke-width="1.5" stroke-linecap="butt"/>
<text x="258.2" y="639.6" font-size="9.6" text-anchor="end" class="t">0</text>
<line x1="260" y1="604.35" x2="264" y2="604.35" stroke="#000" stroke-width="1.5" stroke-linecap="butt"/>
<text x="258.2" y="608.25" font-size="9.6" text-anchor="end" class="t">20</text>
<line x1="260" y1="573" x2="264" y2="573" stroke="#000" stroke-width="1.5" stroke-linecap="butt"/>
<text x="258.2" y="576.9" font-size="9.6" text-anchor="end" class="t">40</text>
<line x1="260" y1="541.65" x2="264" y2="541.65" stroke="#000" stroke-width="1.5" stroke-linecap="butt"/>
<text x="258.2" y="545.55" font-size="9.6" text-anchor="end" class="t">60</text>
<line x1="260" y1="510.3" x2="264" y2="510.3" stroke="#000" stroke-width="1.5" stroke-linecap="butt"/>
<text x="258.2" y="514.2" font-size="9.6" text-anchor="end" class="t">80</text>
<line x1="264" y1="635.7" x2="264" y2="639.7" stroke="#000" stroke-width="1.5" stroke-linecap="butt"/>
<text x="264" y="649.4" font-size="9.6" text-anchor="middle" class="t">0</text>
<line x1="289" y1="635.7" x2="289" y2="639.7" stroke="#000" stroke-width="1.5" stroke-linecap="butt"/>
<text x="289" y="651.3" font-size="9.6" text-anchor="middle" class="t">2:1</text>
<line x1="314" y1="635.7" x2="314" y2="639.7" stroke="#000" stroke-width="1.5" stroke-linecap="butt"/>
<text x="314" y="651.3" font-size="9.6" text-anchor="middle" class="t">4:1</text>
<line x1="339" y1="635.7" x2="339" y2="639.7" stroke="#000" stroke-width="1.5" stroke-linecap="butt"/>
<text x="339" y="651.3" font-size="9.6" text-anchor="middle" class="t">6:1</text>
<line x1="364" y1="635.7" x2="364" y2="639.7" stroke="#000" stroke-width="1.5" stroke-linecap="butt"/>
<text x="364" y="651.3" font-size="9.6" text-anchor="middle" class="t">8:1</text>
<line x1="389" y1="635.7" x2="389" y2="639.7" stroke="#000" stroke-width="1.5" stroke-linecap="butt"/>
<text x="389" y="651.3" font-size="9.6" text-anchor="middle" class="t">10:1</text>
<polyline points="270.25,634.13 284,631 302.75,620.5 345.25,604.35" fill="none" stroke="#000" stroke-width="2.2" stroke-linejoin="round" stroke-dasharray="6,3.5"/>
<polyline points="281.5,621.28 299,614.7 365.25,589.62" fill="none" stroke="#000" stroke-width="2.2" stroke-linejoin="round" stroke-dasharray="6,3.5"/>
<polyline points="276.5,614.7 301.5,596.04 337.75,596.04" fill="none" stroke="#808080" stroke-width="1.9" stroke-linejoin="round"/>
<polyline points="281.5,621.28 315.25,607.49 366.5,593.69" fill="none" stroke="#000" stroke-width="2.2" stroke-linejoin="round"/>
<path d="M270.25,631.28 L273.25,636.23 L267.25,636.23 Z" fill="#000"/>
<path d="M284,628.15 L287,633.1 L281,633.1 Z" fill="#000"/>
<path d="M302.75,617.65 L305.75,622.6 L299.75,622.6 Z" fill="#000"/>
<path d="M345.25,601.5 L348.25,606.45 L342.25,606.45 Z" fill="#000"/>
<rect x="278.8" y="618.58" width="5.4" height="5.4" fill="#000"/>
<rect x="296.3" y="612" width="5.4" height="5.4" fill="#000"/>
<rect x="362.55" y="586.92" width="5.4" height="5.4" fill="#000"/>
<path d="M276.5,611.25 L279.95,614.7 L276.5,618.15 L273.05,614.7 Z" fill="#000"/>
<path d="M301.5,592.59 L304.95,596.04 L301.5,599.49 L298.05,596.04 Z" fill="#000"/>
<path d="M337.75,592.59 L341.2,596.04 L337.75,599.49 L334.3,596.04 Z" fill="#000"/>
<circle cx="281.5" cy="621.28" r="2.64" fill="#fff" stroke="#000" stroke-width="1.3"/>
<circle cx="315.25" cy="607.49" r="2.64" fill="#fff" stroke="#000" stroke-width="1.3"/>
<circle cx="366.5" cy="593.69" r="2.64" fill="#fff" stroke="#000" stroke-width="1.3"/>
<rect x="296.3" y="612" width="5.4" height="5.4" fill="#000"/>
<text transform="translate(240.4,573.4) rotate(-90)" font-size="11.5" text-anchor="middle" class="t" letter-spacing="0.45">% specific lysis</text>
<text x="286.8" y="503.5" font-size="10" text-anchor="start" class="t"><tspan class="bi">Eμ-myc/p53</tspan><tspan class="bi" font-size="6.5" dy="-3" style="stroke:none">+/-</tspan><tspan dy="3"> tumor</tspan></text>
<text x="286.8" y="515" font-size="10" text-anchor="start" class="t">target cells</text>
<line x1="73.75" y1="657.8" x2="387" y2="657.8" stroke="#000" stroke-width="1.5" stroke-linecap="butt"/>
<path d="M392.5,657.8 L386,654.9 L386,660.7 Z" fill="#000"/>
<text x="230.3" y="670.8" font-size="11.5" text-anchor="middle" class="t">E: T ratio</text>
<line x1="413.2" y1="537.2" x2="430" y2="537.2" stroke="#666666" stroke-width="2.7" stroke-linecap="butt"/>
<path d="M421.6,533.52 L425.28,537.2 L421.6,540.88 L417.92,537.2 Z" fill="#000"/>
<text x="432.5" y="540.8" font-size="10" text-anchor="start" class="t"><tspan class="bi">Eμ-myc/p53</tspan><tspan class="bi" font-size="6.5" dy="-3" style="stroke:none">+/-</tspan></text>
<line x1="413.2" y1="561.8" x2="430" y2="561.8" stroke="#000" stroke-width="2.7" stroke-linecap="butt"/>
<circle cx="421.6" cy="561.8" r="2.73" fill="#fff" stroke="#000" stroke-width="1.4"/>
<text x="432.5" y="565.4" font-size="10" text-anchor="start" class="t"><tspan class="bi">Eμ-myc/vav-bcl-2</tspan></text>
<rect x="413.2" y="584" width="2.6" height="2.6" fill="#000"/>
<rect x="427.4" y="584" width="2.6" height="2.6" fill="#000"/>
<path d="M421.6,582.07 L425,587.68 L418.2,587.68 Z" fill="#000"/>
<text x="432.5" y="588.9" font-size="10" text-anchor="start" class="t">unstimulated T cells</text>
<rect x="413.2" y="600.9" width="2.6" height="2.6" fill="#000"/>
<rect x="427.4" y="600.9" width="2.6" height="2.6" fill="#000"/>
<circle cx="421.6" cy="602.2" r="3.67" fill="#000"/>
<text x="432.5" y="605.8" font-size="10" text-anchor="start" class="t">aCD3 activated</text>
<text x="432.5" y="553.1" font-size="10" text-anchor="start" class="t">antigen-specific</text>
<text x="432.5" y="576.6" font-size="10" text-anchor="start" class="t">antigen-specific</text>
</svg>
</body></html>
